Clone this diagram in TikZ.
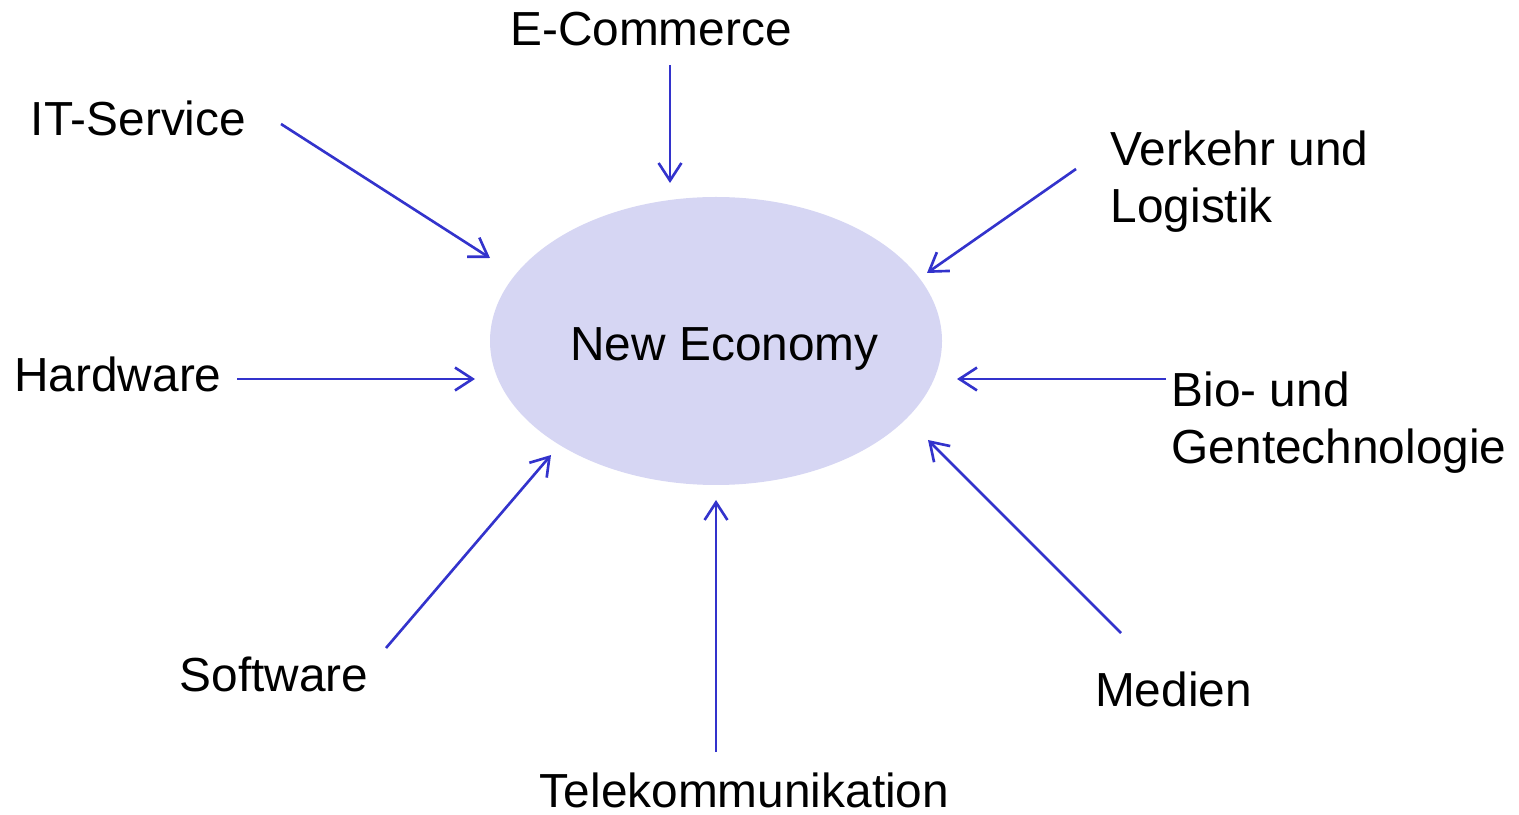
\documentclass[tikz,border=0pt]{standalone}
\usepackage{fontspec}
\setmainfont{Liberation Sans}
\usetikzlibrary{arrows.meta}

\definecolor{arrowblue}{RGB}{51,51,204}
\definecolor{ellipsefill}{RGB}{214,214,243}

\begin{document}
\begin{tikzpicture}[
    every node/.style={font=\fontsize{13.6}{16.5}\selectfont, inner sep=0pt},
    feed/.style={draw=arrowblue, line width=0.75pt, -{Straight Barb[length=5pt,width=6.5pt]}}
  ]

    \useasboundingbox (0,0) rectangle (15.19,8.14);

    % --- Central Ellipse ---
    \fill[ellipsefill] (7.16,4.73) ellipse (2.26cm and 1.44cm);
    \node[anchor=base] (neweco) at (7.245,4.53) {New Economy};

    % --- Labels round the ellipse ---
    % (two-line labels sit on the baseline of their last line)
    \node[anchor=base] (ecom) at (6.51,7.68) {E-Commerce};
    \node[anchor=base] (itserv) at (1.385,6.78) {IT-Service};
    \node[anchor=base west, align=left] (verkehr) at (11.10,5.91) {Verkehr und\\Logistik};
    \node[anchor=base] (hardware) at (1.18,4.22) {Hardware};
    \node[anchor=base west, align=left] (bio) at (11.71,3.50) {Bio- und\\Gentechnologie};
    \node[anchor=base] (software) at (2.74,1.23) {Software};
    \node[anchor=base] (tele) at (7.445,0.07) {Telekommunikation};
    \node[anchor=base] (medien) at (11.735,1.08) {Medien};

    % --- Arrow ends ---
    % Tails next to the labels
    \coordinate (ecom-s) at (6.70,7.49);
    \coordinate (itserv-s) at (2.81,6.90);
    \coordinate (verkehr-s) at (10.76,6.45);
    \coordinate (hardware-s) at (2.37,4.35);
    \coordinate (bio-s) at (11.66,4.35);
    \coordinate (software-s) at (3.86,1.66);
    \coordinate (tele-s) at (7.16,0.62);
    \coordinate (medien-s) at (11.21,1.81);

    % Tips at the rim of the ellipse
    \coordinate (ecom-e) at (6.70,6.31);
    \coordinate (itserv-e) at (4.90,5.56);
    \coordinate (verkehr-e) at (9.27,5.41);
    \coordinate (hardware-e) at (4.75,4.35);
    \coordinate (bio-e) at (9.57,4.35);
    \coordinate (software-e) at (5.51,3.59);
    \coordinate (tele-e) at (7.16,3.14);
    \coordinate (medien-e) at (9.28,3.74);

    % --- Arrows ---
    \foreach \n in {ecom,itserv,verkehr,hardware,bio,software,tele,medien}
      \draw[feed] (\n-s) -- (\n-e);

\end{tikzpicture}
\end{document}
